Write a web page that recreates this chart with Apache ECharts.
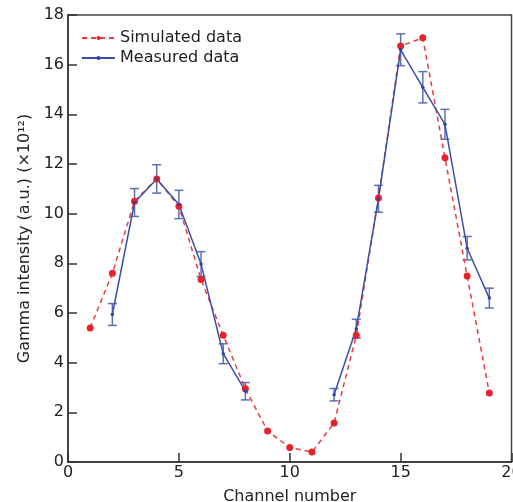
<!DOCTYPE html>
<html>
<head>
<meta charset="utf-8">
<script src="https://cdn.jsdelivr.net/npm/echarts@6/dist/echarts.min.js"></script>
<style>
  html, body { margin: 0; padding: 0; background: #fff; }
  #chart { width: 513px; height: 502px; }
</style>
</head>
<body>
<div id="chart"></div>
<script>
// simulated channels 1..19
const simX = [1, 2, 3, 4, 5, 6, 7, 8, 9, 10, 11, 12, 13, 14, 15, 16, 17, 18, 19]
const simY = [5.4, 7.6, 10.5, 11.4, 10.3, 7.35, 5.1, 2.95, 1.25, 0.58, 0.4, 1.57, 5.1, 10.63, 16.75, 17.08, 12.25, 7.49, 2.78]
// measured channels (gap 9..11)
const measX = [2, 3, 4, 5, 6, 7, 8, 9, 10, 11, 12, 13, 14, 15, 16, 17, 18, 19]
const measY = [5.94, 10.45, 11.4, 10.37, 7.97, 4.36, 2.85, null, null, null, 2.71, 5.37, 10.6, 16.6, 15.09, 13.6, 8.61, 6.6]
const measErr = [0.44, 0.56, 0.57, 0.57, 0.5, 0.4, 0.35, null, null, null, 0.25, 0.38, 0.54, 0.64, 0.63, 0.6, 0.47, 0.4]

const chart = echarts.init(document.getElementById('chart'))

const simData = simX.map((x, i) => [x, simY[i]])
const measData = measX.map((x, i) => [x, measY[i]])
const errData = []
measX.forEach((x, i) => {
  if (measY[i] != null) errData.push([x, measY[i] - measErr[i], measY[i] + measErr[i]])
})

const font = 'DejaVu Sans'

const option = {
  animation: false,
  grid: {
    left: 68, right: 1.5, top: 15, bottom: 40,
    outerBoundsMode: 'none', containLabel: false,
    show: true, borderColor: '#444', borderWidth: 1.5
  },
  legend: {
    left: 76, top: 25, orient: 'vertical', itemGap: 4, itemWidth: 33, itemHeight: 5,
    textStyle: { fontFamily: font, fontSize: 16, color: '#222' },
    data: ['Simulated data', 'Measured data']
  },
  xAxis: {
    type: 'value', min: 0, max: 20, interval: 5,
    name: 'Channel number', nameLocation: 'middle', nameGap: 27,
    nameTextStyle: { fontFamily: font, fontSize: 16, color: '#222' },
    axisLine: { lineStyle: { color: '#333', width: 1.5 } },
    axisTick: { inside: true, length: 9, lineStyle: { color: '#333', width: 1.5 } },
    axisLabel: { fontFamily: font, fontSize: 16, color: '#222', margin: 3 },
    splitLine: { show: false }
  },
  yAxis: {
    type: 'value', min: 0, max: 18, interval: 2,
    name: 'Gamma intensity (a.u.) (×10¹²)', nameLocation: 'middle', nameGap: 27,
    nameTextStyle: { fontFamily: font, fontSize: 16, color: '#222' },
    axisLine: { lineStyle: { color: '#333', width: 1.5 } },
    axisTick: { inside: true, length: 9, lineStyle: { color: '#333', width: 1.5 } },
    axisLabel: { fontFamily: font, fontSize: 16, color: '#222', margin: 4 },
    splitLine: { show: false }
  },
  series: [
    {
      name: 'Simulated data', type: 'line', data: simData,
      symbol: 'circle', symbolSize: 7,
      itemStyle: { color: '#e8222b' },
      lineStyle: { color: '#ec3a40', width: 1.5, type: [5, 4] }
    },
    {
      name: 'Measured data', type: 'line', data: measData, connectNulls: false,
      symbol: 'circle', symbolSize: 3.5, z: 3,
      itemStyle: { color: '#2e44a0' },
      lineStyle: { color: '#3a50a6', width: 1.5 }
    },
    {
      type: 'custom', name: 'err', data: errData, z: 2,
      renderItem: function (params, api) {
        const x = api.value(0)
        const lo = api.coord([x, api.value(1)])
        const hi = api.coord([x, api.value(2)])
        const w = 4.5
        const style = { stroke: '#5d6fb4', lineWidth: 1.5, fill: null }
        return {
          type: 'group',
          children: [
            { type: 'line', shape: { x1: lo[0], y1: lo[1], x2: hi[0], y2: hi[1] }, style: style },
            { type: 'line', shape: { x1: lo[0] - w, y1: lo[1], x2: lo[0] + w, y2: lo[1] }, style: style },
            { type: 'line', shape: { x1: hi[0] - w, y1: hi[1], x2: hi[0] + w, y2: hi[1] }, style: style }
          ]
        }
      },
      encode: { x: 0, y: [1, 2] }
    }
  ]
}
chart.setOption(option)
</script>
</body>
</html>
